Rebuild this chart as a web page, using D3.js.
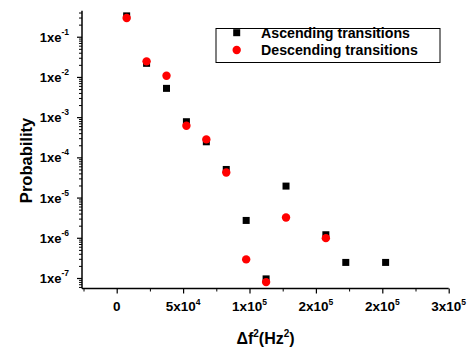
<!DOCTYPE html>
<html lang="en">
<head>
<meta charset="UTF-8">
<title>Transition probability</title>
<script src="https://cdn.jsdelivr.net/npm/d3@7"></script>
<style>
    body { margin: 0; background: #fff; }
    text { font-family: "Liberation Sans", Arial, sans-serif; font-weight: bold; fill: #000; }
</style>
</head>
<body>
<div id="chart"></div>
<script>
// data
const ascX = [7500, 22500, 37500, 52500, 67500, 82500, 97500, 112500, 127500, 157500, 172500, 202500];
const ascP = [0.33, 0.0218, 0.0052, 7.7e-4, 2.44e-4, 5.0e-5, 2.7e-6, 9.5e-8, 1.93e-5, 1.19e-6, 2.44e-7, 2.44e-7];
const descX = [7500, 22500, 37500, 52500, 67500, 82500, 97500, 112500, 127500, 157500];
const descP = [0.292, 0.0244, 0.0107, 6.1e-4, 2.8e-4, 4.2e-5, 2.9e-7, 7.9e-8, 3.2e-6, 9.8e-7];

const xTicks = [0, 50000, 100000, 150000, 200000, 250000];
const xTickLabels = [["0", ""], ["5x10", "4"], ["1x10", "5"], ["2x10", "5"], ["2x10", "5"], ["3x10", "5"]];
const yTicks = [1e-1, 1e-2, 1e-3, 1e-4, 1e-5, 1e-6, 1e-7];
const yTickLabels = [["1xe", "-1"], ["1xe", "-2"], ["1xe", "-3"], ["1xe", "-4"], ["1xe", "-5"], ["1xe", "-6"], ["1xe", "-7"]];
const seriesNames = ["Ascending transitions", "Descending transitions"];

const W = 468, H = 347;
const svg = d3.select("#chart").append("svg").attr("width", W).attr("height", H);

const x = d3.scaleLinear().domain([-25000, 250000]).range([83.5, 448.7]);
const y = d3.scaleLog().domain([5.48e-8, 0.444]).range([288.5, 10.7]);

const x0 = 82, y0 = 288.5;

// minor x ticks
const xMinor = d3.range(-25000, 250001, 25000).filter(v => !xTicks.includes(v));
svg.append("g")
    .attr("transform", `translate(0,${y0})`)
    .call(d3.axisBottom(x).tickValues(xMinor).tickSize(3).tickFormat(""))
    .call(g => g.select(".domain").remove());

svg.append("g")
    .attr("transform", `translate(0,${y0})`)
    .call(d3.axisBottom(x).tickValues(xTicks).tickSize(5).tickFormat("").tickSizeOuter(0))
    .call(g => g.select(".domain").attr("d", `M${x0},0H${x(250000)}`).attr("stroke-width", 1.5))
    .call(g => g.selectAll("line").attr("stroke-width", 1.2));

// x tick labels with superscripts
const xl = svg.append("g").selectAll("text").data(xTicks).join("text")
    .attr("x", d => x(d))
    .attr("y", 311)
    .attr("text-anchor", "middle")
    .attr("font-size", 13.5);
xl.append("tspan").text((d, i) => xTickLabels[i][0]);
xl.append("tspan").attr("dy", -6.5).attr("font-size", 8.5).text((d, i) => xTickLabels[i][1]);

// minor y ticks
const yMinor = [];
for (let e = -8; e <= 0; e++) {
    for (let m = 2; m <= 9; m++) {
        const v = m * Math.pow(10, e);
        if (v >= y.domain()[0] && v <= y.domain()[1]) yMinor.push(v);
    }
}
svg.append("g")
    .attr("transform", `translate(${x0},0)`)
    .call(d3.axisLeft(y).tickValues(yMinor).tickSize(3).tickFormat(""))
    .call(g => g.select(".domain").remove());

svg.append("g")
    .attr("transform", `translate(${x0},0)`)
    .call(d3.axisLeft(y).tickValues(yTicks).tickSize(5).tickFormat("").tickSizeOuter(0))
    .call(g => g.select(".domain").attr("d", `M0,${y.range()[1]}V${y0}`).attr("stroke-width", 1.5))
    .call(g => g.selectAll("line").attr("stroke-width", 1.2));

const yl = svg.append("g").selectAll("text").data(yTicks).join("text")
    .attr("x", 69)
    .attr("y", d => y(d) + 5)
    .attr("text-anchor", "end")
    .attr("font-size", 13);
yl.append("tspan").text((d, i) => yTickLabels[i][0]);
yl.append("tspan").attr("dy", -7).attr("font-size", 8.5).text((d, i) => yTickLabels[i][1]);

// axis titles
const xt = svg.append("text").attr("x", 265.5).attr("y", 343.5).attr("text-anchor", "middle").attr("font-size", 16);
xt.append("tspan").text("\u0394f");
xt.append("tspan").attr("dy", -7).attr("font-size", 10).text("2");
xt.append("tspan").attr("dy", 7).text("(Hz");
xt.append("tspan").attr("dy", -7).attr("font-size", 10).text("2");
xt.append("tspan").attr("dy", 7).text(")");

svg.append("text")
    .attr("transform", "translate(31.5,160.5) rotate(-90)")
    .attr("text-anchor", "middle")
    .attr("font-size", 16.5)
    .text("Probability");

// points
const sq = 7;
svg.append("g").selectAll("rect").data(ascX).join("rect")
    .attr("x", (d, i) => x(d) - sq / 2)
    .attr("y", (d, i) => y(ascP[i]) - sq / 2)
    .attr("width", sq).attr("height", sq)
    .attr("fill", "#000");

svg.append("g").selectAll("circle").data(descX).join("circle")
    .attr("cx", d => x(d))
    .attr("cy", (d, i) => y(descP[i]))
    .attr("r", 4.2)
    .attr("fill", "#ff0000");

// legend
const lg = svg.append("g");
lg.append("rect").attr("x", 216).attr("y", 28.5).attr("width", 224).attr("height", 34)
    .attr("fill", "#fff").attr("stroke", "#000").attr("stroke-width", 1);
lg.append("rect").attr("x", 236.7 - sq / 2).attr("y", 32.7 - sq / 2).attr("width", sq).attr("height", sq).attr("fill", "#000");
lg.append("circle").attr("cx", 236.7).attr("cy", 50).attr("r", 4.2).attr("fill", "#ff0000");
lg.selectAll("text.lab").data(seriesNames).join("text")
    .attr("class", "lab")
    .attr("x", 261)
    .attr("y", (d, i) => 37.5 + i * 17)
    .attr("font-size", 14.2)
    .text(d => d);
</script>
</body>
</html>
